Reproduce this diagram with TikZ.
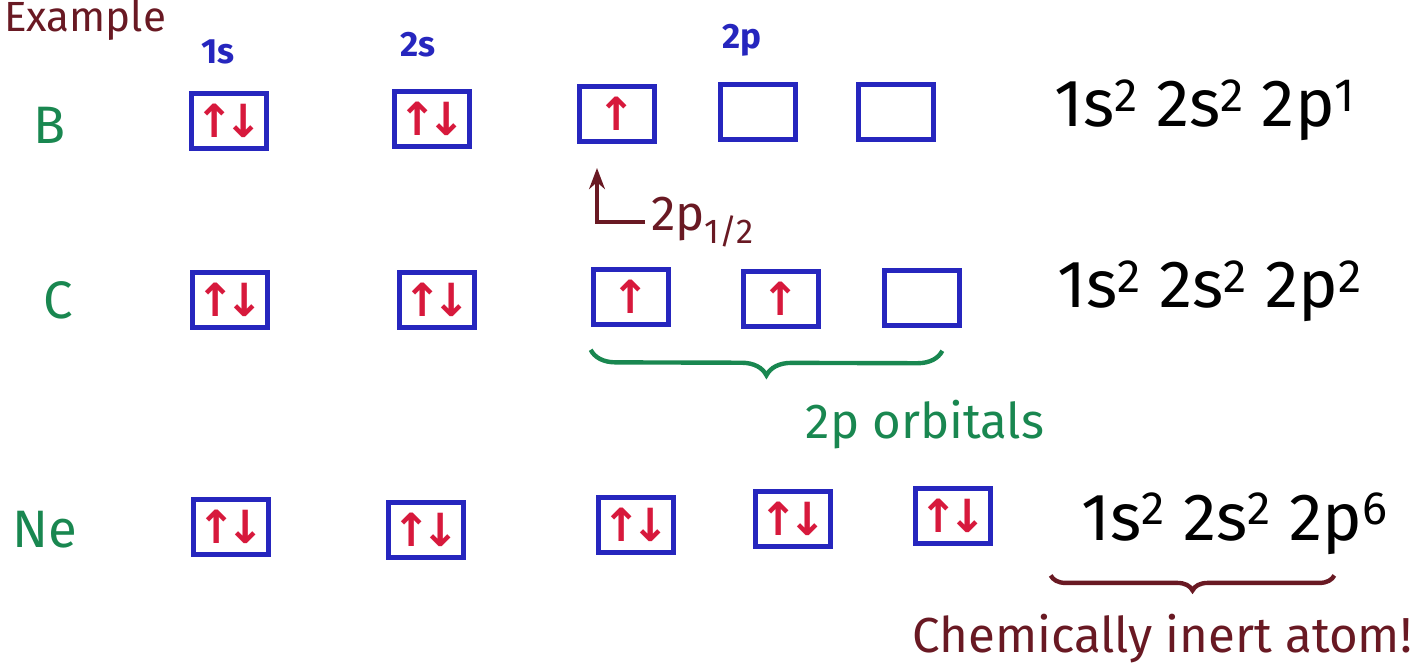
\documentclass[tikz,border=0pt]{standalone}
\usepackage{fontspec}
\setmainfont{Fira Sans}
\newfontfamily\arrowfont{DejaVu Sans}
\usetikzlibrary{positioning,decorations.pathreplacing,arrows.meta}
\definecolor{orbblue}{RGB}{38,38,190}
\definecolor{spinred}{RGB}{215,25,60}
\definecolor{atomgreen}{RGB}{25,135,80}
\definecolor{inkmaroon}{RGB}{105,25,35}
\newcommand{\spinpair}{↑\kern-0.2em↓}
\newcommand{\spinup}{↑}
\tikzset{
  orb/.style={draw=orbblue, line width=3.2pt, minimum width=1.5cm, minimum height=1.1cm, inner sep=0pt, text=spinred, font=\arrowfont\bfseries\fontsize{26}{28}\selectfont},
  atom/.style={text=atomgreen, font=\fontsize{30}{32}\selectfont},
  shell/.style={text=orbblue, font=\bfseries\fontsize{20}{22}\selectfont},
  config/.style={font=\fontsize{38}{42}\selectfont, anchor=base},
  ink/.style={inkmaroon, line width=2.5pt},
  note/.style={text=inkmaroon, font=\fontsize{28}{30}\selectfont}
}

\begin{document}
\begin{tikzpicture}[x=0.02cm,y=-0.02cm]
\useasboundingbox (0,0) rectangle (1422,668);
\node[note, font=\fontsize{24}{26}\selectfont, inner sep=0pt, anchor=base west] (ex) at (4,32) {Example};

\node[shell] (h1s) at (218,52) {1s};
\node[shell] (h2s) at (418,45) {2s};
\node[shell] (h2p) at (742,40) {2p};

\node[atom] (B) at (50,125) {B};
\node[orb] (b1s) at (229,121) {\spinpair};
\node[orb] (b2s) at (432,119) {\spinpair};
\node[orb] (b2px) at (617,114) {\spinup};
\node[orb] (b2py) at (758,112) {};
\node[orb] (b2pz) at (896,112) {};
\node[config] (bcfg) at (1205,127) {1s\textsuperscript{2} 2s\textsuperscript{2} 2p\textsuperscript{1}};

\coordinate (hook) at (597,168);
\node[note, anchor=west] (p12) at (645,222) {2p\textsubscript{1/2}};
\draw[ink,-{Stealth[length=12pt]}] (p12.west) -| (hook);

\node[atom] (C) at (58,300) {C};
\node[orb] (c1s) at (230,300) {\spinpair};
\node[orb] (c2s) at (437,300) {\spinpair};
\node[orb] (c2px) at (631,297) {\spinup};
\node[orb] (c2py) at (781,299) {\spinup};
\node[orb] (c2pz) at (922,298) {};
\node[config] (ccfg) at (1210,308) {1s\textsuperscript{2} 2s\textsuperscript{2} 2p\textsuperscript{2}};

\draw[atomgreen, line width=2.5pt, decorate, decoration={brace, mirror, amplitude=0.5cm}]
  ([yshift=-0.45cm]c2px.south west) -- ([xshift=-0.4cm,yshift=-0.45cm]c2pz.south east);
\node[atom, font=\fontsize{28}{30}\selectfont] (orbs) at (925,425) {2p orbitals};

\node[atom] (Ne) at (45,530) {Ne};
\node[orb] (ne1s) at (231,527) {\spinpair};
\node[orb] (ne2s) at (426,530) {\spinpair};
\node[orb] (ne2px) at (636,525) {\spinpair};
\node[orb] (ne2py) at (793,519) {\spinpair};
\node[orb] (ne2pz) at (953,516) {\spinpair};
\node[config] (necfg) at (1235,540) {1s\textsuperscript{2} 2s\textsuperscript{2} 2p\textsuperscript{6}};

\draw[ink, decorate, decoration={brace, mirror, amplitude=0.3cm}]
  ([xshift=-0.5cm,yshift=-0.3cm]necfg.south west) -- ([xshift=-1.2cm,yshift=-0.3cm]necfg.south east);
\node[note, anchor=base east] (inert) at (1418,652) {Chemically inert atom!};
\end{tikzpicture}
\end{document}
